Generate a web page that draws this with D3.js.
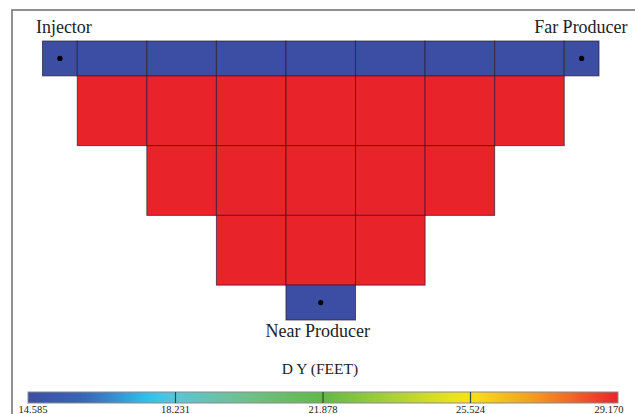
<!DOCTYPE html>
<html><head><meta charset="utf-8">
<script src="https://cdn.jsdelivr.net/npm/d3@7/dist/d3.min.js"></script>
<style>html,body{margin:0;padding:0;background:#fff;}svg{display:block;}</style>
</head><body>
<script>
// ---- data ----
const colDX = [14.585, 29.17, 29.17, 29.17, 29.17, 29.17, 29.17, 29.17, 14.585];
const rowDY = [14.585, 29.17, 29.17, 29.17, 14.585];
const rowFirstCol = [0, 1, 2, 3, 4];
const rowLastCol  = [8, 7, 6, 5, 4];
const wellNames = ["Injector", "Far Producer", "Near Producer"];
const wellCol = [0, 8, 4];
const wellRow = [0, 0, 4];
const cbTicks = [14.585, 18.231, 21.878, 25.524, 29.170];
const cbTickLabels = ["14.585", "18.231", "21.878", "25.524", "29.170"];
const cbTitle = "D Y (FEET)";

// ---- setup ----
const W = 635, H = 414;
const svg = d3.select("body").append("svg").attr("width", W).attr("height", H);
const serif = "'Liberation Serif','Times New Roman',serif";

// frame
svg.append("rect").attr("x", 12).attr("y", 10).attr("width", 660).attr("height", 440)
  .attr("fill", "none").attr("stroke", "#6e6e6e").attr("stroke-width", 1.5);

// colour map
const color = d3.scaleLinear()
  .domain([14.585, 16.0, 17.6, 18.231, 20.0, 21.878, 23.5, 25.2, 25.524, 27.0, 28.0, 29.17])
  .range(["#3b4ea3", "#3a66b8", "#31c2ee", "#5cc4d6", "#70c08a", "#62b946", "#a6cf3b", "#efe31d", "#f7e21b", "#f3a023", "#ef6829", "#e8232a"])
  .clamp(true);

// grid scales (cumulative distance)
const xEdges = [0]; colDX.forEach(d => xEdges.push(xEdges[xEdges.length - 1] + d));
const yEdges = [0]; rowDY.forEach(d => yEdges.push(yEdges[yEdges.length - 1] + d));
const x = d3.scaleLinear().domain([0, xEdges[xEdges.length - 1]]).range([42.5, 599]);
const y = d3.scaleLinear().domain([0, yEdges[yEdges.length - 1]]).range([41, 320]);

const cells = [];
rowDY.forEach((dy, r) => {
  for (let c = rowFirstCol[r]; c <= rowLastCol[r]; c++) cells.push({c, r, v: dy});
});

svg.append("g").selectAll("rect").data(cells).join("rect")
  .attr("x", d => x(xEdges[d.c]))
  .attr("y", d => y(yEdges[d.r]))
  .attr("width", d => x(xEdges[d.c + 1]) - x(xEdges[d.c]))
  .attr("height", d => y(yEdges[d.r + 1]) - y(yEdges[d.r]))
  .attr("fill", d => color(d.v))
  .attr("stroke", "#2a1a30").attr("stroke-opacity", 0.7).attr("stroke-width", 1);

// wells
const wells = wellNames.map((n, i) => ({n, c: wellCol[i], r: wellRow[i]}));
const cx = d => x((xEdges[d.c] + xEdges[d.c + 1]) / 2);
const cy = d => y((yEdges[d.r] + yEdges[d.r + 1]) / 2);
svg.append("g").selectAll("circle").data(wells).join("circle")
  .attr("cx", cx).attr("cy", cy).attr("r", 2.6).attr("fill", "#000");

// well labels
const labelPos = [
  {dx: -24, y: 33, anchor: "start"},
  {dx: 46, y: 33, anchor: "end"},
  {dx: -3, y: 337, anchor: "middle"}
];
svg.append("g").selectAll("text").data(wells).join("text")
  .attr("x", (d, i) => cx(d) + labelPos[i].dx)
  .attr("y", (d, i) => labelPos[i].y)
  .attr("text-anchor", (d, i) => labelPos[i].anchor)
  .attr("font-family", serif).attr("font-size", 18).attr("fill", "#222")
  .text(d => d.n);

// colorbar
const cb = d3.scaleLinear().domain([cbTicks[0], cbTicks[cbTicks.length - 1]]).range([28, 618]);
const defs = svg.append("defs");
const grad = defs.append("linearGradient").attr("id", "cbg").attr("x1", "0%").attr("x2", "100%");
d3.range(0, 1.0001, 0.02).forEach(t => {
  const v = cb.domain()[0] + t * (cb.domain()[1] - cb.domain()[0]);
  grad.append("stop").attr("offset", (t * 100) + "%").attr("stop-color", color(v));
});
svg.append("text").attr("x", 320).attr("y", 374).attr("text-anchor", "middle")
  .attr("font-family", serif).attr("font-size", 15.5).attr("fill", "#222").text(cbTitle);
svg.append("rect").attr("x", cb.range()[0]).attr("y", 392).attr("width", cb.range()[1] - cb.range()[0])
  .attr("height", 11).attr("fill", "url(#cbg)").attr("stroke", "#8a8a8a").attr("stroke-width", 1);
svg.append("g").selectAll("line").data(cbTicks.slice(1, -1)).join("line")
  .attr("x1", d => cb(d)).attr("x2", d => cb(d)).attr("y1", 392).attr("y2", 403)
  .attr("stroke", "#2f4a3a").attr("stroke-width", 1.2);
const tickDx = [5, 0, 0, 0, -9];
svg.append("g").selectAll("text").data(cbTicks).join("text")
  .attr("x", (d, i) => cb(d) + tickDx[i]).attr("y", 413).attr("text-anchor", "middle")
  .attr("font-family", serif).attr("font-size", 10.5).attr("fill", "#222")
  .text((d, i) => cbTickLabels[i]);
</script>
</body></html>
